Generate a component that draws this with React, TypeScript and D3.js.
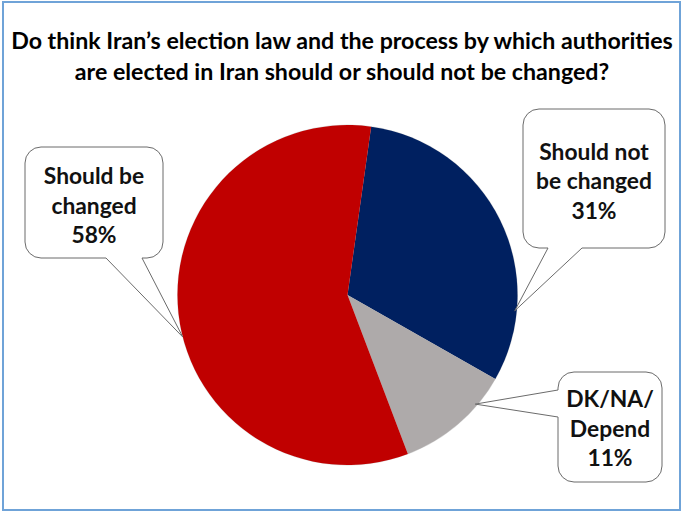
import React from "react";
import * as d3 from "d3";

const categories = ["Should not be changed", "DK/NA/Depend", "Should be changed"];
const values = [31, 11, 58];
const colors = ["#002060", "#aeaaaa", "#c00000"];
const labelLines = [
  ["Should not", "be changed", "31%"],
  ["DK/NA/", "Depend", "11%"],
  ["Should be", "changed", "58%"],
];
const titleLines = [
  "Do think Iran\u2019s election law and the process by which authorities",
  "are elected in Iran should or should not be changed?",
];

const W = 684;
const H = 513;
const cx = 347.5;
const cy = 295;
const R = 170;
const startDeg = 8;

type Callout = {
  x: number; y: number; w: number; h: number;
  side: "bottom" | "left";
  b1: number; b2: number;
  tipDeg: number; tipR: number;
  textY: number;
};
const callouts: Callout[] = [
  { x: 523, y: 109, w: 142, h: 139, side: "bottom", b1: 548, b2: 582, tipDeg: 95.4, tipR: 168, textY: 159.5 },
  { x: 558, y: 372, w: 104, h: 110, side: "left", b1: 390, b2: 417, tipDeg: 130.5, tipR: 168, textY: 407 },
  { x: 25, y: 147, w: 138, h: 111, side: "bottom", b1: 106, b2: 142, tipDeg: 255.7, tipR: 170, textY: 184 },
];

function calloutPath(c: Callout, tx: number, ty: number) {
  const r = 16;
  const { x, y, w, h } = c;
  const p = d3.path();
  p.moveTo(x + r, y);
  p.lineTo(x + w - r, y);
  p.arcTo(x + w, y, x + w, y + r, r);
  p.lineTo(x + w, y + h - r);
  p.arcTo(x + w, y + h, x + w - r, y + h, r);
  if (c.side === "bottom") {
    p.lineTo(c.b2, y + h);
    p.lineTo(tx, ty);
    p.lineTo(c.b1, y + h);
  }
  p.lineTo(x + r, y + h);
  p.arcTo(x, y + h, x, y + h - r, r);
  if (c.side === "left") {
    p.lineTo(x, c.b2);
    p.lineTo(tx, ty);
    p.lineTo(x, c.b1);
  }
  p.lineTo(x, y + r);
  p.arcTo(x, y, x + r, y, r);
  p.closePath();
  return p.toString();
}

export default function App() {
  const pie = d3
    .pie<number>()
    .sort(null)
    .value((d) => d)
    .startAngle((startDeg * Math.PI) / 180)
    .endAngle(((startDeg + 360) * Math.PI) / 180);
  const arcs = pie(values);
  const arc = d3.arc<d3.PieArcDatum<number>>().innerRadius(0).outerRadius(R);
  const font = "Lato, 'Liberation Sans', sans-serif";

  return (
    <svg width={W} height={H} style={{ position: "absolute", left: 0, top: 0 }} fontFamily={font}>
      <defs>
        <filter id="soft" x="-10%" y="-10%" width="120%" height="120%">
          <feGaussianBlur stdDeviation="0.6" />
        </filter>
      </defs>
      <rect x={0} y={0} width={W} height={H} fill="#ffffff" />
      <rect x={3} y={2} width={677} height={508} fill="none" stroke="#6fa3d8" strokeWidth={2} />
      {titleLines.map((t, i) => (
        <text key={i} x={342} y={49 + i * 31} textAnchor="middle" fontSize={23.2} fontWeight="bold" fill="#000">
          {t}
        </text>
      ))}
      <g transform={`translate(${cx},${cy})`}>
        <circle r={R + 0.5} fill="#999" opacity={0.35} filter="url(#soft)" />
        {arcs.map((a, i) => (
          <path key={categories[i]} d={arc(a) || ""} fill={colors[i]} />
        ))}
      </g>
      {callouts.map((c, i) => {
        const ang = (c.tipDeg * Math.PI) / 180;
        const tx = cx + c.tipR * Math.sin(ang);
        const ty = cy - c.tipR * Math.cos(ang);
        return (
          <g key={i}>
            <path d={calloutPath(c, tx, ty)} fill="#ffffff" stroke="#6b6b6b" strokeWidth={1} />
            {labelLines[i].map((l, j) => (
              <text
                key={j}
                x={c.x + c.w / 2}
                y={c.textY + j * 29.5}
                textAnchor="middle"
                fontSize={22.8}
                fontWeight="bold"
                fill="#111"
              >
                {l}
              </text>
            ))}
          </g>
        );
      })}
    </svg>
  );
}
